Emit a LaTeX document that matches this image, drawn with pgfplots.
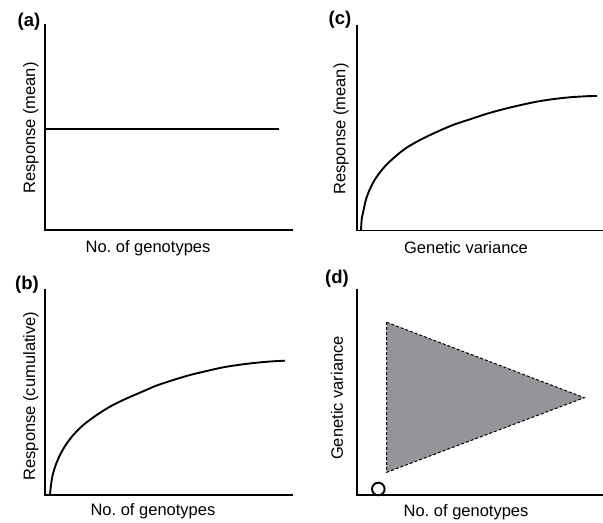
\documentclass[border=0pt]{standalone}
\usepackage{fontspec}
\setmainfont{Liberation Sans}
\usepackage{pgfplots}
\pgfplotsset{compat=1.18}
\newcommand{\lab}{\fontsize{16.5bp}{19bp}\selectfont}
\newcommand{\plab}{\fontsize{18.5bp}{21bp}\selectfont\bfseries}
\pgfplotsset{panel/.style={scale only axis, anchor=south west, axis lines=left,
  axis line style={-, line width=1.9bp, line cap=rect},
  xtick=\empty, ytick=\empty, xmin=0, ymin=0, ymax=205, clip=false,
  label style={font=\lab}}}
\begin{document}
\begin{tikzpicture}[x=1bp,y=1bp]
\path[use as bounding box] (0,0) rectangle (603,523);
% (a)
\begin{axis}[panel, at={(45,293)}, width=247bp, height=205bp, xmax=247,
  xlabel={No.\ of genotypes}, ylabel={Response (mean)},
  xlabel style={at={(axis description cs:0.417,-0.088)}, anchor=center},
  ylabel style={at={(axis description cs:-0.057,0.498)}, anchor=center}]
\addplot[line width=1.9bp] coordinates {(0,101) (234,101)};
\end{axis}
% (c)
\begin{axis}[panel, at={(357,292.5)}, width=245bp, height=205bp, xmax=245,
  xlabel={Genetic variance}, ylabel={Response (mean)},
  xlabel style={at={(axis description cs:0.445,-0.085)}, anchor=center},
  ylabel style={at={(axis description cs:-0.065,0.495)}, anchor=center}]
\addplot[line width=1.9bp, smooth] coordinates {(4,0) (4.7,11) (6.7,21) (9,31) (12.3,40) (17.3,50) (24,59.5) (30.7,67) (40.7,76) (50.7,83.5) (64,91) (80.7,99) (97.3,106) (114,111.5) (130.7,117) (147.3,121.5) (164,125.5) (180.7,129) (197.3,131.5) (214,133.3) (230.7,134.3) (240,134.5)};
\end{axis}
% (b)
\begin{axis}[panel, at={(45,28)}, width=247bp, height=205bp, xmax=247,
  xlabel={No.\ of genotypes}, ylabel={Response (cumulative)},
  xlabel style={at={(axis description cs:0.437,-0.078)}, anchor=center},
  ylabel style={at={(axis description cs:-0.057,0.483)}, anchor=center}]
\addplot[line width=1.9bp, smooth] coordinates {(5,0) (6,10) (7.7,20) (10.7,30) (15,40) (20.7,50) (28.3,60) (38.3,70) (51.7,80) (66.7,89.3) (83.3,97.3) (100,104.5) (111.7,109.5) (128.3,115) (145,120) (161.7,124) (178.3,127.7) (195,130.3) (211.7,132.3) (228.3,133.7) (240,134.3)};
\end{axis}
% (d)
\begin{axis}[panel, at={(357,28)}, width=245bp, height=205bp, xmax=245,
  xlabel={No.\ of genotypes}, ylabel={Genetic variance},
  xlabel style={at={(axis description cs:0.445,-0.083)}, anchor=center},
  ylabel style={at={(axis description cs:-0.082,0.473)}, anchor=center}]
\addplot[fill={rgb,255:red,147;green,149;blue,152}, draw=black, line width=1bp, dash pattern=on 3bp off 2bp] coordinates {(29.7,172.7) (227.3,97.3) (29.7,22.7)} -- cycle;
\addplot[only marks, mark=o, mark size=6.3bp, mark options={line width=1.9bp, fill=white, solid}] coordinates {(21.3,6)};
\end{axis}
\node[font=\plab] at (29,501) {(a)};
\node[font=\plab] at (340,503) {(c)};
\node[font=\plab] at (27,238) {(b)};
\node[font=\plab] at (337,244) {(d)};
\end{tikzpicture}
\end{document}
